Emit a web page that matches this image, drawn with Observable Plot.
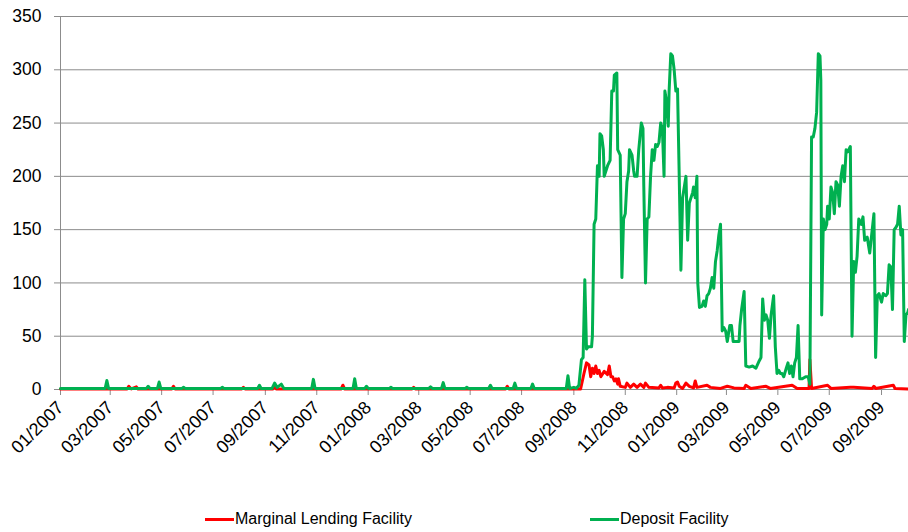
<!DOCTYPE html>
<html>
<head>
<meta charset="utf-8">
<script src="https://cdn.jsdelivr.net/npm/d3@7"></script>
<script src="https://cdn.jsdelivr.net/npm/@observablehq/plot@0.6"></script>
<style>
  body { margin: 0; background: #fff; font-family: "Liberation Sans", Arial, sans-serif; }
  #wrap { position: relative; width: 908px; height: 532px; overflow: hidden; }
  #legend { position: absolute; left: 0; top: 508px; width: 908px; height: 24px; font-size: 16px; color: #000; }
  .item { position: absolute; top: 2px; display: flex; align-items: center; white-space: nowrap; }
  .swatch { display: inline-block; width: 29px; height: 3px; margin-right: 1px; }
</style>
</head>
<body>
<div id="wrap">
  <div id="chart"></div>
  <div id="legend"></div>
</div>
<script>
// ---- Data (EUR bn) ----
const seriesNames = ["Marginal Lending Facility", "Deposit Facility"];
const seriesColors = ["#ff0000", "#00b050"];

const yTicks = [0, 50, 100, 150, 200, 250, 300, 350];
const xTickDates = ["2007-01-01","2007-03-01","2007-05-01","2007-07-01","2007-09-01","2007-11-01",
  "2008-01-01","2008-03-01","2008-05-01","2008-07-01","2008-09-01","2008-11-01",
  "2009-01-01","2009-03-01","2009-05-01","2009-07-01","2009-09-01"];
const xDomain = ["2007-01-01", "2009-10-03"];

const depositDates = [
  "2007-01-01","2007-02-23","2007-02-25","2007-02-27","2007-04-13","2007-04-15","2007-04-17",
  "2007-04-26","2007-04-28","2007-04-30","2007-05-25","2007-05-27","2007-05-29","2007-07-10",
  "2007-07-12","2007-07-14","2007-08-23","2007-08-25","2007-08-27","2007-09-09","2007-09-12",
  "2007-09-15","2007-09-20","2007-09-23","2007-10-26","2007-10-28","2007-10-30","2007-12-14",
  "2007-12-16","2007-12-18","2007-12-28","2007-12-30","2008-01-01","2008-01-26","2008-01-28",
  "2008-01-30","2008-03-13","2008-03-15","2008-03-17","2008-03-28","2008-03-30","2008-04-01",
  "2008-04-25","2008-04-27","2008-04-29","2008-05-23","2008-05-25","2008-05-27","2008-06-21",
  "2008-06-23","2008-06-25","2008-07-12","2008-07-14","2008-07-16","2008-08-23","2008-08-25",
  "2008-08-27","2008-09-01","2008-09-04","2008-09-07",
  "2008-09-10","2008-09-12","2008-09-14","2008-09-16","2008-09-18","2008-09-22","2008-09-23",
  "2008-09-25","2008-09-27","2008-09-29","2008-10-01","2008-10-02","2008-10-04","2008-10-06",
  "2008-10-07","2008-10-09","2008-10-11","2008-10-14","2008-10-16","2008-10-18","2008-10-19",
  "2008-10-22","2008-10-23","2008-10-26","2008-10-28","2008-10-30","2008-11-01","2008-11-03",
  "2008-11-05","2008-11-06","2008-11-09","2008-11-11","2008-11-12","2008-11-15","2008-11-17",
  "2008-11-20","2008-11-22","2008-11-23","2008-11-25","2008-11-27","2008-11-29","2008-12-01",
  "2008-12-03","2008-12-05","2008-12-07","2008-12-09","2008-12-11","2008-12-13","2008-12-15",
  "2008-12-17","2008-12-18","2008-12-20","2008-12-22","2008-12-23","2008-12-25","2008-12-27",
  "2008-12-29","2008-12-31","2009-01-02","2009-01-04","2009-01-06","2009-01-08","2009-01-10",
  "2009-01-12","2009-01-14","2009-01-16","2009-01-18","2009-01-20","2009-01-21","2009-01-23",
  "2009-01-25","2009-01-26","2009-01-28","2009-01-31","2009-02-02","2009-02-04","2009-02-06",
  "2009-02-08","2009-02-10","2009-02-12","2009-02-14","2009-02-16","2009-02-18","2009-02-20",
  "2009-02-22","2009-02-24","2009-02-26","2009-02-28","2009-03-02","2009-03-05","2009-03-07",
  "2009-03-09","2009-03-12","2009-03-16","2009-03-17","2009-03-19","2009-03-22","2009-03-24",
  "2009-03-28","2009-04-01","2009-04-05","2009-04-09","2009-04-11","2009-04-13","2009-04-15",
  "2009-04-17","2009-04-19","2009-04-21","2009-04-23","2009-04-26","2009-04-28","2009-04-30",
  "2009-05-02","2009-05-04","2009-05-06","2009-05-08","2009-05-11","2009-05-13","2009-05-15",
  "2009-05-17","2009-05-19","2009-05-21","2009-05-23","2009-05-25","2009-05-27","2009-05-30",
  "2009-06-03","2009-06-06","2009-06-08","2009-06-10","2009-06-12","2009-06-14","2009-06-16",
  "2009-06-18","2009-06-20","2009-06-21","2009-06-22","2009-06-24","2009-06-26","2009-06-28",
  "2009-06-29","2009-07-01","2009-07-03","2009-07-05","2009-07-07","2009-07-09","2009-07-11",
  "2009-07-13","2009-07-15","2009-07-17","2009-07-19","2009-07-21","2009-07-23","2009-07-26",
  "2009-07-28","2009-07-30","2009-08-01","2009-08-03","2009-08-05","2009-08-08","2009-08-10",
  "2009-08-12","2009-08-15","2009-08-18","2009-08-20","2009-08-23","2009-08-25","2009-08-27",
  "2009-08-29","2009-09-01","2009-09-03","2009-09-06","2009-09-08","2009-09-10","2009-09-12",
  "2009-09-14","2009-09-16","2009-09-18","2009-09-20","2009-09-22","2009-09-24","2009-09-26",
  "2009-09-28","2009-09-30","2009-10-02","2009-10-03"
];
const depositValues = [
  1,1,8.5,1,1,3,1,
  1,7,1,1,2,1,1,
  2,1,1,4,1,1,6,
  2,5,1,1,9.5,1,1,
  10,1,1,3,1,1,2,
  1,1,2.5,1,1,6.5,1,
  1,2,1,1,4,1,1,
  6,1,1,5,1,1,13,
  1,2,1,4,
  28,30,103,38,40,40,50,
  155,160,210,200,240,238,225,
  200,205,210,215,280,280,295,
  297,225,220,105,160,165,195,
  205,225,220,205,200,200,225,
  250,245,190,100,160,162,200,
  225,215,230,228,232,250,245,
  200,280,270,247,280,315,313,
  300,280,282,200,112,180,190,
  200,140,175,180,185,190,180,
  200,100,77,78,83,78,88,
  90,95,105,95,120,130,145,
  155,55,58,55,45,60,60,
  45,45,45,60,75,92,22,
  21,22,20,27,30,85,65,
  70,65,48,70,88,40,15,
  18,15,15,12,20,25,15,
  22,12,25,30,60,10,10,
  12,12,5,237,237,245,260,
  315,313,290,70,160,150,155,
  172,160,190,185,165,195,192,
  172,200,210,195,225,223,228,
  50,120,110,125,160,155,162,
  140,143,128,143,165,30,88,
  90,82,90,88,90,117,115,
  75,150,152,155,172,145,150,
  45,70,72,75
];

const lendingDates = [
  "2007-01-01","2007-03-21","2007-03-23","2007-03-26","2007-04-01","2007-04-03","2007-05-13",
  "2007-05-15","2007-05-17","2007-08-04","2007-08-06","2007-08-08","2007-09-10","2007-09-12",
  "2007-09-14","2007-11-30","2007-12-02","2007-12-04","2008-02-22","2008-02-24","2008-02-26",
  "2008-06-12","2008-06-14","2008-06-16","2008-09-09","2008-09-13","2008-09-16","2008-09-19",
  "2008-09-21","2008-09-23","2008-09-25","2008-09-27","2008-09-29","2008-10-01","2008-10-03",
  "2008-10-07","2008-10-11","2008-10-13","2008-10-15","2008-10-17","2008-10-19","2008-10-21",
  "2008-10-23","2008-10-24","2008-10-26","2008-11-01","2008-11-03","2008-11-07","2008-11-11",
  "2008-11-15","2008-11-19","2008-11-23","2008-11-25","2008-11-29","2008-12-11","2008-12-13",
  "2008-12-15","2008-12-21","2008-12-29","2008-12-31","2009-01-02","2009-01-04","2009-01-08",
  "2009-01-12","2009-01-16","2009-01-21","2009-01-23","2009-01-25","2009-02-06","2009-02-10",
  "2009-02-22","2009-03-02","2009-03-10","2009-03-22","2009-03-24","2009-03-30","2009-04-17",
  "2009-04-22","2009-05-18","2009-05-24","2009-06-07","2009-06-08","2009-06-10","2009-06-29",
  "2009-07-03","2009-07-26","2009-07-30","2009-08-21","2009-08-23","2009-08-25","2009-09-15",
  "2009-09-17","2009-10-03"
];
const lendingValues = [
  0.5,0.5,3,0.5,2.5,0.5,0.5,
  3,0.5,0.5,2,0.5,0.5,4,
  0.5,0.5,4,0.5,0.5,2,0.5,
  0.5,3,0.5,0.5,15,25,23,
  12,20,15,22,15,18,12,
  17,14,22,12,12,8,10,
  5,10,3,2,6,2,5,
  2,5,2,6,2,1.5,4,
  1.5,2,1.5,6,7,3,1,
  6,3,1.5,8,2,4,2,
  1,3,1.5,1,4,1,3,
  1,4,1,1,28,1,4,
  1,2,2,1,3,1,4,
  1,0.5
];

// ---- Build tables ----
const parse = d3.utcParse("%Y-%m-%d");
const lending = lendingDates.map((d, i) => ({date: parse(d), value: lendingValues[i]}));
const deposit = depositDates.map((d, i) => ({date: parse(d), value: depositValues[i]}));
const xTicks = xTickDates.map(parse);

const axisColor = "#8c8c8c";
const chart = Plot.plot({
  width: 908,
  height: 500,
  marginLeft: 60,
  marginRight: 0,
  marginTop: 16,
  marginBottom: 111,
  style: {fontFamily: "'Liberation Sans', Arial, sans-serif", fontSize: "17px", color: "#000", background: "#fff", overflow: "visible"},
  x: {type: "utc", domain: xDomain.map(parse)},
  y: {domain: [0, 350]},
  marks: [
    Plot.gridY(yTicks, {stroke: axisColor, strokeOpacity: 1, strokeWidth: 1}),
    Plot.axisY(yTicks, {tickSize: 6, tickPadding: 13, stroke: axisColor, fill: "#000", label: null, fontSize: 17.5}),
    Plot.axisX(xTicks, {tickSize: 6, tickPadding: 9, tickRotate: -45, tickFormat: d3.utcFormat("%m/%Y"), stroke: axisColor, fill: "#000", label: null, fontSize: 18}),
    Plot.frame({anchor: "left", stroke: axisColor}),
    Plot.frame({anchor: "bottom", stroke: axisColor}),
    Plot.line(lending, {x: "date", y: "value", stroke: seriesColors[0], strokeWidth: 3, strokeLinejoin: "round"}),
    Plot.line(deposit, {x: "date", y: "value", stroke: seriesColors[1], strokeWidth: 3, strokeLinejoin: "round"})
  ]
});
document.getElementById("chart").appendChild(chart);

// ---- Legend (HTML, below the SVG) ----
const legend = document.getElementById("legend");
const legendLeft = [205, 590];
seriesNames.forEach((name, i) => {
  const item = document.createElement("div");
  item.className = "item";
  item.style.left = legendLeft[i] + "px";
  const sw = document.createElement("span");
  sw.className = "swatch";
  sw.style.background = seriesColors[i];
  const label = document.createElement("span");
  label.textContent = name;
  item.appendChild(sw);
  item.appendChild(label);
  legend.appendChild(item);
});
</script>
</body>
</html>
